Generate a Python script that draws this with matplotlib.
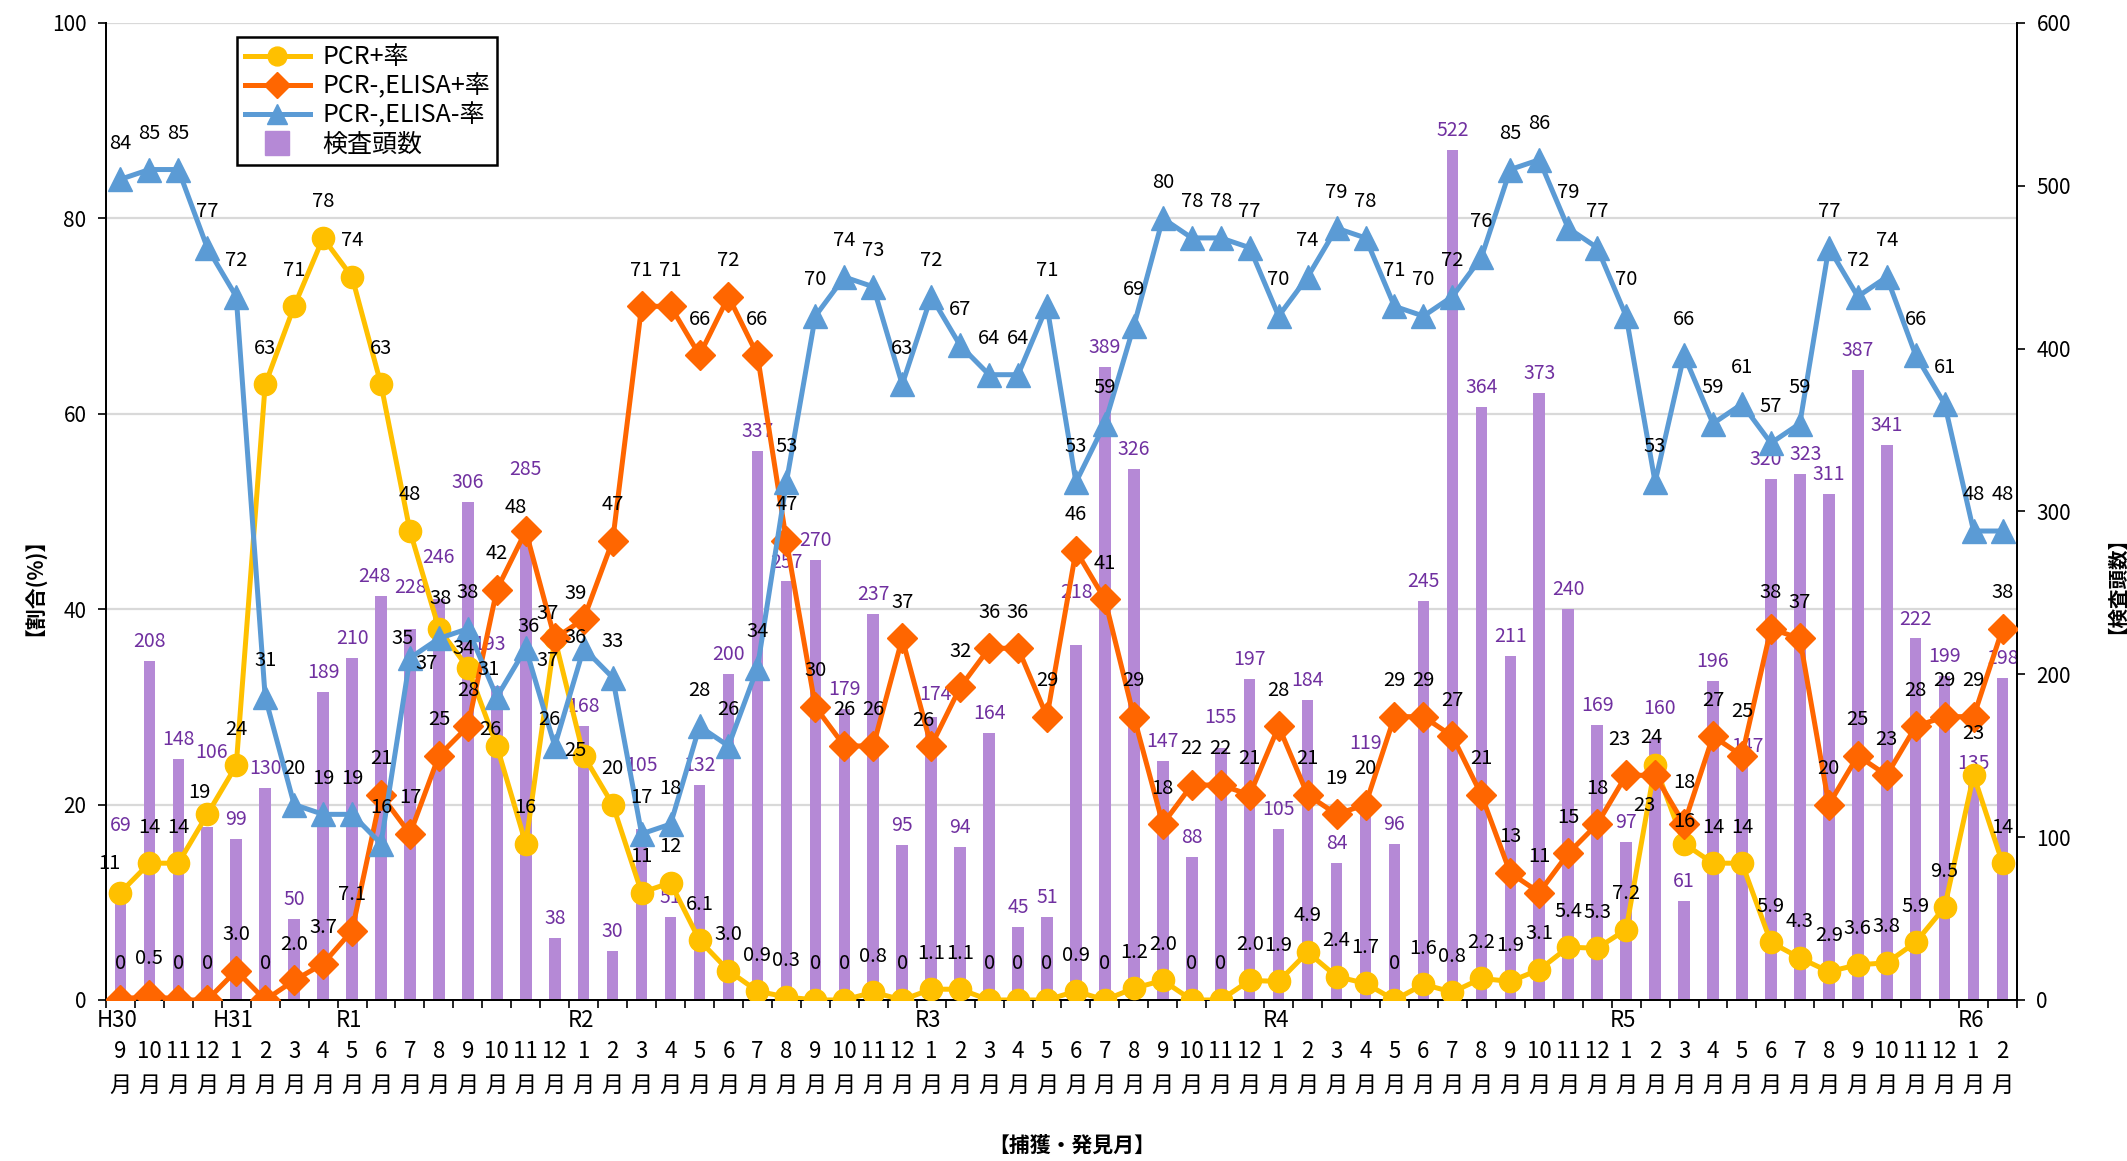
import matplotlib.pyplot as plt
from matplotlib.lines import Line2D
import numpy as np

plt.rcParams['font.family'] = ['Noto Sans CJK JP', 'DejaVu Sans']

# 捕獲・発見月 (H30年9月 ～ R6年2月)
meses = [9, 10, 11, 12,
         1, 2, 3, 4, 5, 6, 7, 8, 9, 10, 11, 12,
         1, 2, 3, 4, 5, 6, 7, 8, 9, 10, 11, 12,
         1, 2, 3, 4, 5, 6, 7, 8, 9, 10, 11, 12,
         1, 2, 3, 4, 5, 6, 7, 8, 9, 10, 11, 12,
         1, 2, 3, 4, 5, 6, 7, 8, 9, 10, 11, 12,
         1, 2]
eras = {0: 'H30', 4: 'H31', 8: 'R1', 16: 'R2', 28: 'R3', 40: 'R4', 52: 'R5', 64: 'R6'}

# 検査頭数
kensa = [69, 208, 148, 106, 99, 130, 50, 189, 210, 248, 228, 246, 306, 193, 285, 38,
         168, 30, 105, 51, 132, 200, 337, 257, 270, 179, 237, 95,
         174, 94, 164, 45, 51, 218, 389, 326, 147, 88, 155, 197,
         105, 184, 84, 119, 96, 245, 522, 364, 211, 373, 240, 169,
         97, 160, 61, 196, 147, 320, 323, 311, 387, 341, 222, 199,
         135, 198]

# PCR+率
pcr_pos = [11, 14, 14, 19, 24, 63, 71, 78, 74, 63, 48, 38, 34, 26, 16, 37,
           25, 20, 11, 12, 6.1, 3.0, 0.9, 0.3, 0, 0, 0.8, 0,
           1.1, 1.1, 0, 0, 0, 0.9, 0, 1.2, 2.0, 0, 0, 2.0,
           1.9, 4.9, 2.4, 1.7, 0, 1.6, 0.8, 2.2, 1.9, 3.1, 5.4, 5.3,
           7.2, 24, 16, 14, 14, 5.9, 4.3, 2.9, 3.6, 3.8, 5.9, 9.5,
           23, 14]

# PCR-,ELISA+率
elisa_pos = [0, 0.5, 0, 0, 3.0, 0, 2.0, 3.7, 7.1, 21, 17, 25, 28, 42, 48, 37,
             39, 47, 71, 71, 66, 72, 66, 47, 30, 26, 26, 37,
             26, 32, 36, 36, 29, 46, 41, 29, 18, 22, 22, 21,
             28, 21, 19, 20, 29, 29, 27, 21, 13, 11, 15, 18,
             23, 23, 18, 27, 25, 38, 37, 20, 25, 23, 28, 29,
             29, 38]

# PCR-,ELISA-率
elisa_neg = [84, 85, 85, 77, 72, 31, 20, 19, 19, 16, 35, 37, 38, 31, 36, 26,
             36, 33, 17, 18, 28, 26, 34, 53, 70, 74, 73, 63,
             72, 67, 64, 64, 71, 53, 59, 69, 80, 78, 78, 77,
             70, 74, 79, 78, 71, 70, 72, 76, 85, 86, 79, 77,
             70, 53, 66, 59, 61, 57, 59, 77, 72, 74, 66, 61,
             48, 48]

amarelo = '#FFC000'
laranja = '#FF6600'
azul = '#5B9BD5'
roxo = '#B589D6'
roxo_txt = '#7030A0'

# deslocamento dos rótulos (pontos), ajustes manuais p/ não sobrepor
off_barra = {0: (0, 45), 3: (3, 54), 9: (-5, 14), 10: (0, 30), 11: (0, 30), 13: (-5, 30),
             14: (0, 48), 18: (0, 46), 28: (3, 16), 33: (0, 38), 38: (0, 22), 43: (0, 45),
             53: (3, 22), 56: (4, 10), 57: (-4, 14), 58: (4, 14), 64: (0, 12)}
off_amarelo = {0: (-8, 21), 3: (-6, 16), 11: (1, 22), 12: (-3, 14), 13: (-5, 12),
               15: (-5, -16), 16: (-6, 4), 53: (-3, 20), 54: (0, 16), 64: (0, 30)}
off_laranja = {14: (-7, 17), 15: (-5, 18), 16: (-6, 18), 28: (-6, 18), 52: (-5, 26),
               53: (-8, -22), 54: (0, 30), 56: (0, 32)}
off_azul = {10: (-5, 14), 11: (-9, -18), 13: (-6, 20), 14: (2, 16), 15: (-4, 19), 16: (-6, 8)}


def fmt(v):
    if v == 0:
        return '0'
    if v < 10:
        return f'{v:.1f}'
    return f'{v:.0f}'


x = np.arange(len(meses))

fig = plt.figure(figsize=(21.27, 11.61), dpi=100)
ax = fig.add_axes([0.0498, 0.1387, 0.8985, 0.8415])
ax2 = ax.twinx()
ax.set_zorder(ax2.get_zorder() + 1)
ax.patch.set_visible(False)

# 検査頭数 (右軸)
ax2.set_ylim(0, 600)
for v in [20, 40, 60, 80, 100]:
    ax2.axhline(v * 6, color='#D9D9D9', lw=1.6, zorder=0)
ax2.bar(x, kensa, width=0.4, color=roxo, zorder=2)
for i, n in enumerate(kensa):
    ax2.annotate(str(n), (i, n), xytext=off_barra.get(i, (0, 14)), textcoords='offset points',
                 ha='center', va='center', fontsize=14, color=roxo_txt, zorder=3)

# 割合 (左軸)
l1, = ax.plot(x, pcr_pos, color=amarelo, lw=3.6, marker='o', ms=16, mec=amarelo, zorder=3)
l2, = ax.plot(x, elisa_pos, color=laranja, lw=3.6, marker='D', ms=15, mec=laranja, zorder=4)
l3, = ax.plot(x, elisa_neg, color=azul, lw=3.6, marker='^', ms=17, mec=azul, zorder=5)

for serie, offs in [(pcr_pos, off_amarelo), (elisa_pos, off_laranja), (elisa_neg, off_azul)]:
    for i, v in enumerate(serie):
        ax.annotate(fmt(v), (i, v), xytext=offs.get(i, (0, 26)), textcoords='offset points',
                    ha='center', va='center', fontsize=14.5, color='black', zorder=6)

ax.set_xlim(-0.5, len(meses) - 0.5)
ax.set_ylim(0, 100)
ax.set_yticks([0, 20, 40, 60, 80, 100])
ax2.set_yticks([0, 100, 200, 300, 400, 500, 600])
ax.set_xticks(np.arange(-0.5, len(meses), 1))
ax.set_xticklabels([])
ax.tick_params(axis='x', length=6, width=1.2, direction='out')
ax.tick_params(axis='y', length=6, width=1.2, direction='out', labelsize=15, pad=8)
ax2.tick_params(axis='y', length=6, width=1.2, direction='out', labelsize=15, pad=8)

for a in (ax, ax2):
    a.spines['top'].set_visible(False)
    for s in ('left', 'right', 'bottom'):
        a.spines[s].set_linewidth(1.3)
        a.spines[s].set_color('black')

# x軸のラベル (年号・月)
trans = ax.get_xaxis_transform()
for i, m in enumerate(meses):
    ax.text(i, -0.053, str(m), transform=trans, ha='center', va='center', fontsize=16)
    ax.text(i, -0.087, '月', transform=trans, ha='center', va='center', fontsize=16)
    if i in eras:
        ax.text(i - 0.1, -0.021, eras[i], transform=trans, ha='center', va='center', fontsize=16)

ax.text(0.5055, -0.149, '【捕獲・発見月】', transform=ax.transAxes, ha='center', va='center',
        fontsize=15, fontweight='bold')
ax.text(-0.043, 0.434, '【割合(%)】', transform=ax.transAxes, rotation=90,
        ha='center', va='center', fontsize=15, fontweight='bold')
ax.text(1.0475, 0.434, '【検査頭数】', transform=ax.transAxes, rotation=90,
        ha='center', va='center', fontsize=14, fontweight='bold')

h4 = Line2D([], [], marker='s', color=roxo, linestyle='none', markersize=20)
leg = ax.legend([l1, l2, l3, h4], ['PCR+率', 'PCR-,ELISA+率', 'PCR-,ELISA-率', '検査頭数'],
                loc='upper left', bbox_to_anchor=(0.0686, 0.9857), borderaxespad=0,
                fontsize=18, handlelength=2.6, markerscale=0.85, labelspacing=0.12,
                borderpad=0.3, handletextpad=0.5, fancybox=False, edgecolor='black',
                framealpha=1)
leg.get_frame().set_linewidth(1.8)

fig.savefig('out.png', dpi=100)
